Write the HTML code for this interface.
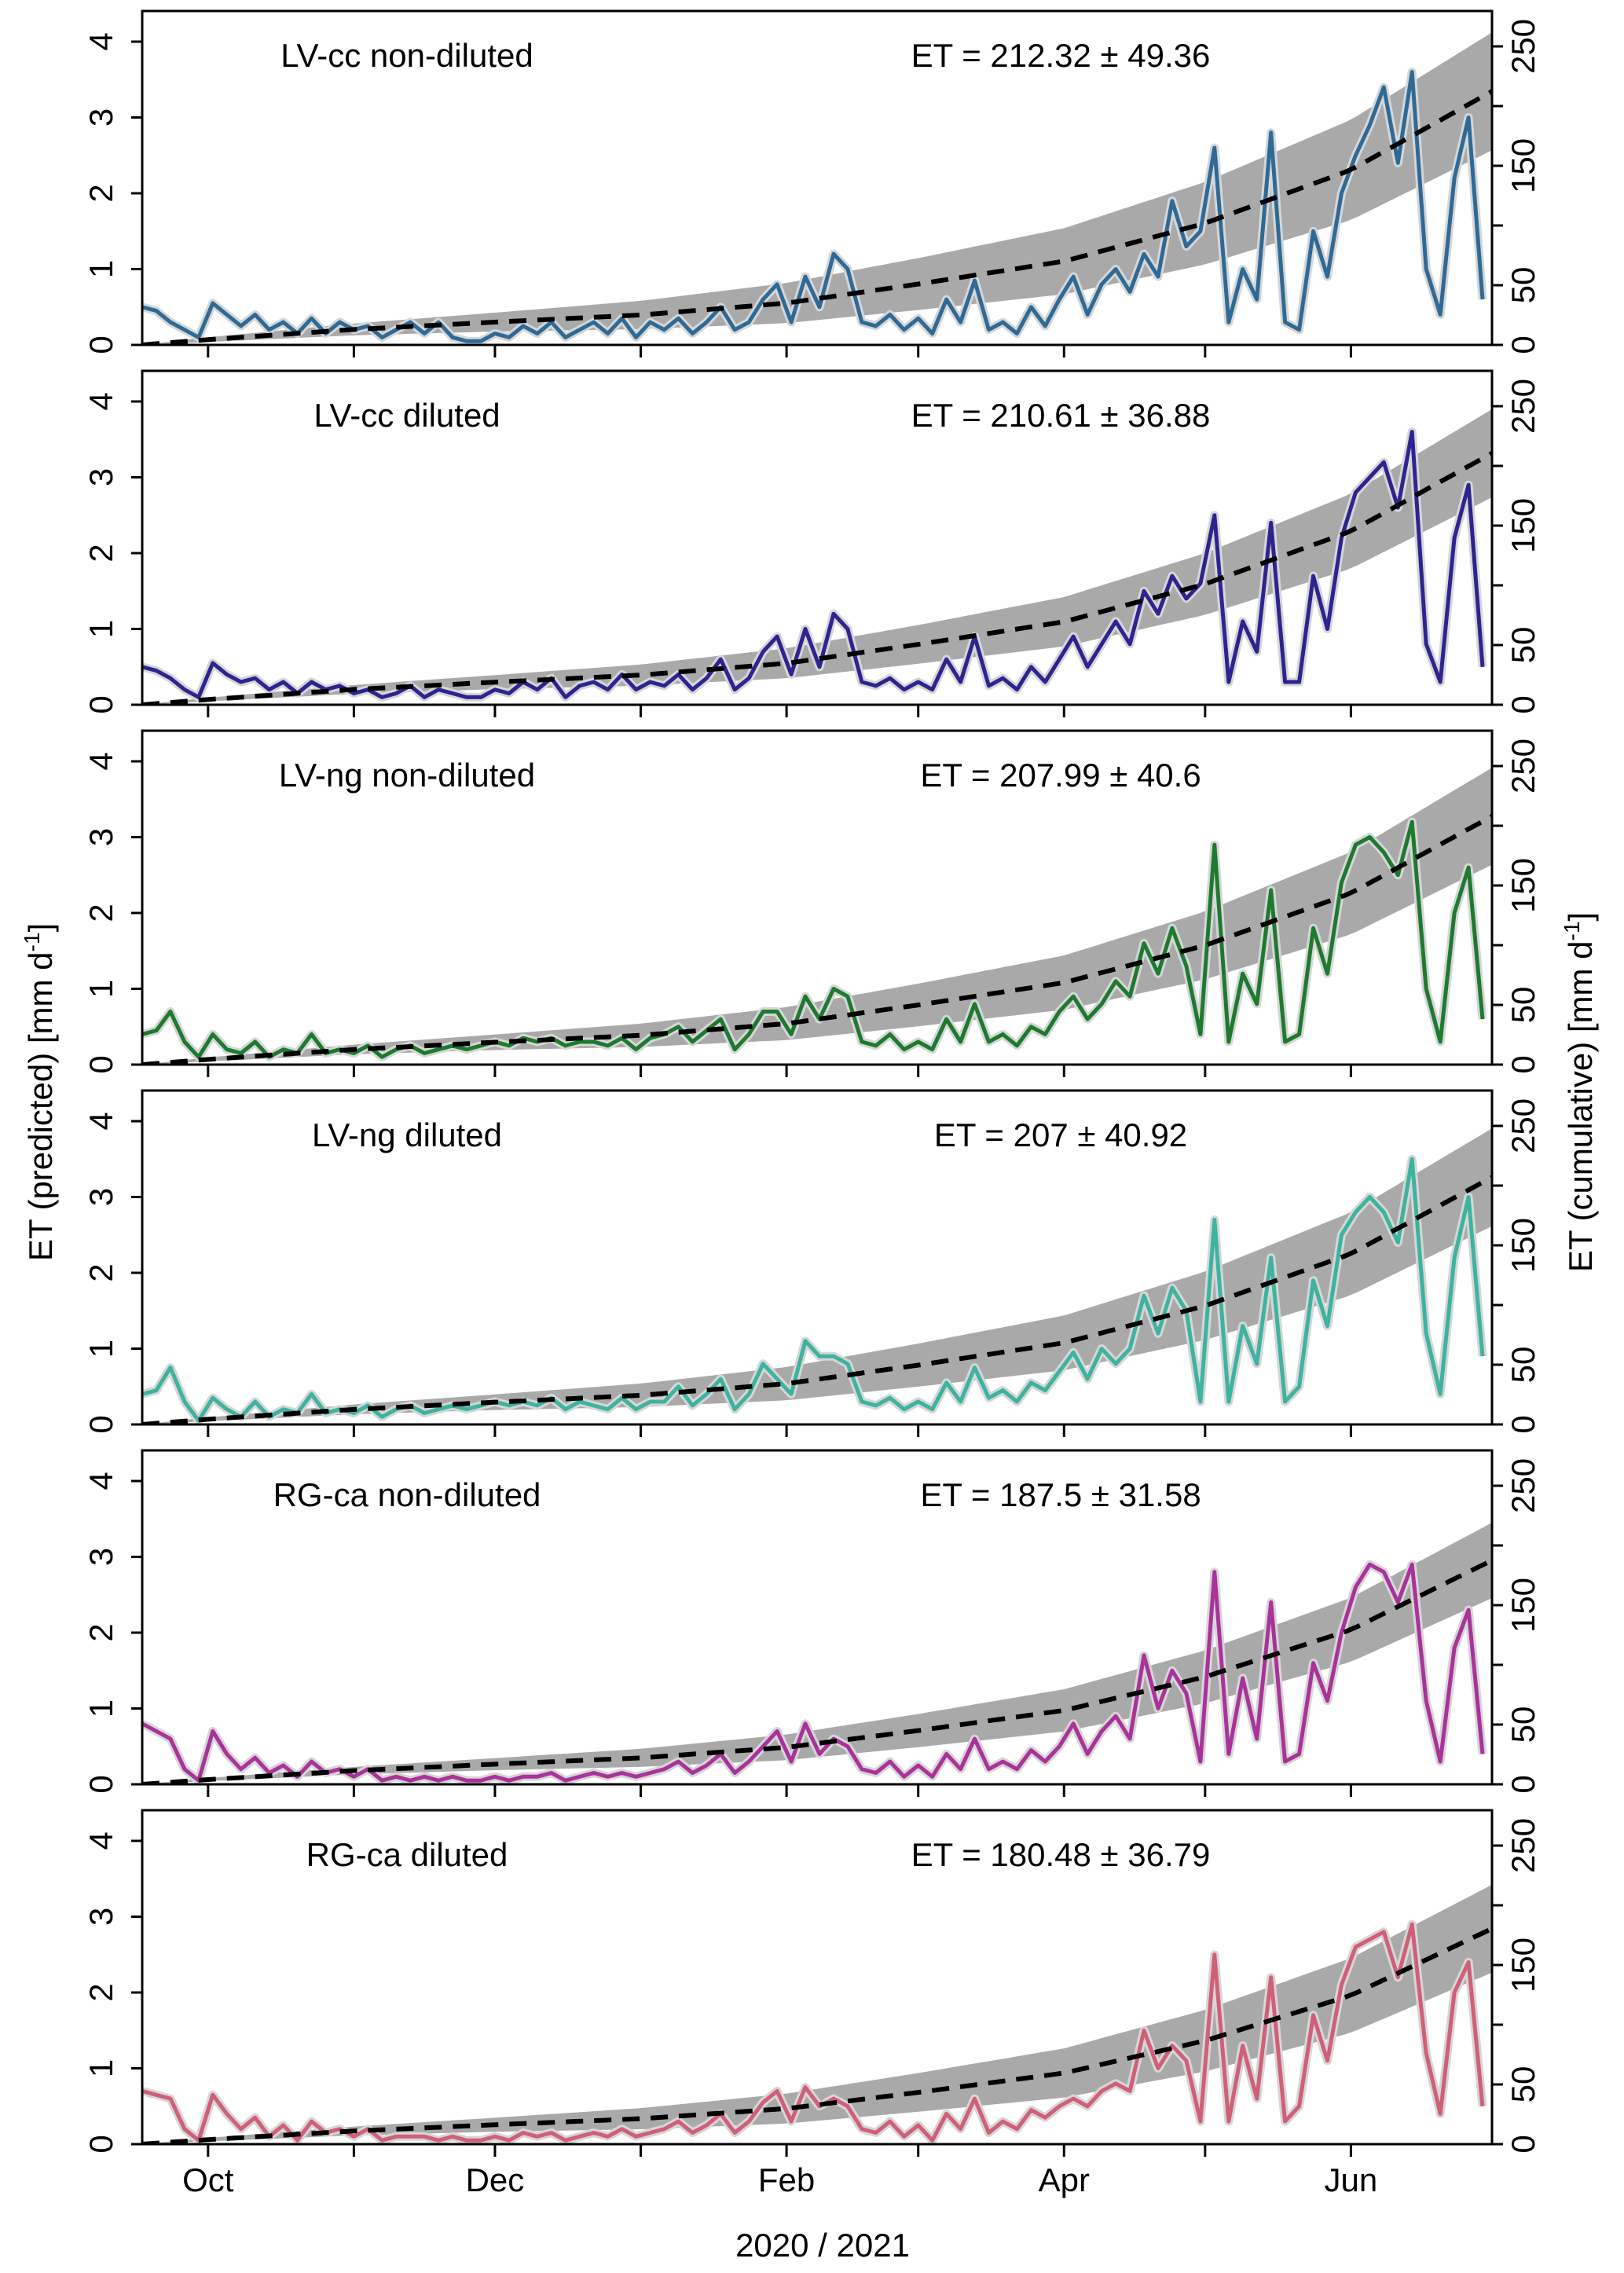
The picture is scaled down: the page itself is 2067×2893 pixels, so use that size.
<!DOCTYPE html>
<html><head><meta charset="utf-8">
<style>
html,body{margin:0;padding:0;background:#fff;}
svg{display:block;font-family:"Liberation Sans",Arial,sans-serif;}
</style></head>
<body>
<svg id="chart" width="2067" height="2893" viewBox="0 0 2067 2893" xmlns="http://www.w3.org/2000/svg">
<text x="0" y="0" transform="translate(66,1390) rotate(-90)" text-anchor="middle" font-size="42">ET (predicted) [mm d<tspan font-size="28" dy="-16">-1</tspan><tspan dy="16">]</tspan></text>
<text x="0" y="0" transform="translate(2026,1390) rotate(-90)" text-anchor="middle" font-size="42">ET (cumulative) [mm d<tspan font-size="28" dy="-16">-1</tspan><tspan dy="16">]</tspan></text>
<text x="1047" y="2872" text-anchor="middle" font-size="42">2020 / 2021</text>
</svg>
<script>
const panelNames = ["LV-cc non-diluted","LV-cc diluted","LV-ng non-diluted","LV-ng diluted","RG-ca non-diluted","RG-ca diluted"];
const etTotals = ["ET = 212.32 ± 49.36","ET = 210.61 ± 36.88","ET = 207.99 ± 40.6","ET = 207 ± 40.92","ET = 187.5 ± 31.58","ET = 180.48 ± 36.79"];
const cumEnd = [212.32,210.61,207.99,207,187.5,180.48];
const cumSd = [49.36,36.88,40.6,40.92,31.58,36.79];
const colors = ["#2f6a96","#2e2490","#1d7a2e","#3db3a0","#a93399","#d05f78"];
const cumDays = [0,14,45,75,106,137,165,196,226,257,287];
const cumShape = [0,0.021,0.061,0.09,0.118,0.165,0.24,0.33,0.48,0.69,1.0];
const sdShape = [0,0.04,0.1,0.16,0.24,0.34,0.44,0.56,0.7,0.85,1.0];
const monthTickDays = [14,45,75,106,137,165,196,226,257];
const monthLabels = ["Oct","","Dec","","Feb","","Apr","","Jun"];
const leftTicks = [0,1,2,3,4];
const rightTicks = [0,50,100,150,200,250];
const rightLabels = ["0","50","","150","","250"];
const series1 = [0.5,0.45,0.3,0.2,0.1,0.55,0.4,0.25,0.4,0.2,0.3,0.15,0.35,0.15,0.3,0.2,0.25,0.1,0.2,0.3,0.15,0.3,0.1,0.05,0.05,0.15,0.1,0.25,0.15,0.3,0.1,0.2,0.3,0.15,0.35,0.1,0.3,0.2,0.35,0.15,0.3,0.5,0.2,0.3,0.6,0.8,0.3,0.9,0.5,1.2,1.0,0.3,0.25,0.4,0.2,0.35,0.15,0.6,0.3,0.85,0.2,0.3,0.15,0.5,0.25,0.6,0.9,0.4,0.8,1.0,0.7,1.2,0.9,1.9,1.3,1.5,2.6,0.3,1.0,0.6,2.8,0.3,0.2,1.5,0.9,2.0,2.5,2.9,3.4,2.4,3.6,1.0,0.4,2.2,3.0,0.6];
const series2 = [0.5,0.45,0.35,0.2,0.1,0.55,0.4,0.3,0.35,0.2,0.3,0.15,0.3,0.2,0.25,0.15,0.2,0.1,0.15,0.25,0.1,0.2,0.15,0.1,0.1,0.2,0.15,0.3,0.2,0.35,0.1,0.25,0.3,0.2,0.4,0.2,0.3,0.25,0.4,0.2,0.35,0.6,0.2,0.35,0.7,0.9,0.4,1.0,0.5,1.2,1.0,0.3,0.25,0.35,0.2,0.3,0.2,0.6,0.3,0.9,0.25,0.35,0.2,0.5,0.3,0.6,0.9,0.5,0.8,1.1,0.8,1.5,1.2,1.7,1.4,1.6,2.5,0.3,1.1,0.7,2.4,0.3,0.3,1.7,1.0,2.2,2.8,3.0,3.2,2.6,3.6,0.8,0.3,2.2,2.9,0.5];
const series3 = [0.4,0.45,0.7,0.3,0.1,0.4,0.2,0.15,0.3,0.1,0.2,0.15,0.4,0.15,0.2,0.15,0.25,0.1,0.2,0.25,0.15,0.2,0.25,0.2,0.25,0.3,0.25,0.35,0.3,0.35,0.25,0.3,0.3,0.25,0.35,0.2,0.35,0.4,0.5,0.3,0.45,0.6,0.2,0.4,0.7,0.7,0.4,0.9,0.6,1.0,0.9,0.3,0.25,0.4,0.2,0.3,0.2,0.6,0.3,0.8,0.3,0.4,0.25,0.5,0.4,0.7,0.9,0.6,0.8,1.1,0.9,1.6,1.2,1.8,1.3,0.4,2.9,0.3,1.2,0.8,2.3,0.3,0.4,1.8,1.2,2.4,2.9,3.0,2.8,2.5,3.2,1.0,0.3,2.0,2.6,0.6];
const series4 = [0.4,0.45,0.75,0.3,0.05,0.35,0.2,0.1,0.3,0.1,0.2,0.15,0.4,0.15,0.2,0.15,0.25,0.1,0.2,0.25,0.15,0.2,0.25,0.2,0.25,0.3,0.25,0.3,0.25,0.35,0.2,0.3,0.25,0.2,0.35,0.2,0.3,0.3,0.5,0.25,0.4,0.6,0.2,0.4,0.8,0.6,0.4,1.1,0.9,0.9,0.8,0.3,0.25,0.35,0.2,0.3,0.2,0.55,0.3,0.75,0.35,0.45,0.3,0.55,0.45,0.7,0.95,0.6,1.0,0.8,1.0,1.7,1.2,1.8,1.5,0.3,2.7,0.3,1.3,0.8,2.2,0.3,0.5,1.9,1.3,2.5,2.8,3.0,2.8,2.4,3.5,1.2,0.4,2.2,3.0,0.9];
const series5 = [0.8,0.7,0.6,0.2,0.05,0.7,0.4,0.2,0.35,0.15,0.25,0.1,0.3,0.15,0.2,0.1,0.2,0.05,0.1,0.05,0.1,0.05,0.1,0.05,0.05,0.1,0.05,0.1,0.1,0.15,0.05,0.1,0.15,0.1,0.15,0.1,0.15,0.2,0.3,0.15,0.25,0.4,0.15,0.3,0.5,0.7,0.3,0.8,0.4,0.6,0.5,0.2,0.15,0.3,0.1,0.25,0.1,0.4,0.2,0.6,0.2,0.3,0.2,0.45,0.3,0.5,0.8,0.4,0.7,0.9,0.6,1.7,1.0,1.5,1.2,0.3,2.8,0.4,1.4,0.6,2.4,0.3,0.4,1.6,1.1,2.0,2.6,2.9,2.8,2.4,2.9,1.1,0.3,1.8,2.3,0.4];
const series6 = [0.7,0.65,0.6,0.2,0.05,0.65,0.4,0.2,0.35,0.1,0.25,0.05,0.3,0.15,0.2,0.1,0.2,0.05,0.1,0.1,0.1,0.05,0.1,0.05,0.05,0.1,0.05,0.15,0.1,0.15,0.05,0.1,0.15,0.1,0.2,0.1,0.15,0.2,0.3,0.15,0.25,0.4,0.15,0.3,0.55,0.7,0.3,0.75,0.5,0.6,0.5,0.2,0.15,0.3,0.1,0.25,0.05,0.4,0.2,0.6,0.15,0.3,0.2,0.45,0.35,0.5,0.6,0.5,0.7,0.8,0.7,1.5,1.0,1.3,1.1,0.3,2.5,0.3,1.3,0.6,2.2,0.3,0.5,1.7,1.1,2.1,2.6,2.7,2.8,2.2,2.9,1.2,0.4,2.0,2.4,0.5];
const allSeries = [series1,series2,series3,series4,series5,series6];

const NS = "http://www.w3.org/2000/svg";
const svg = document.getElementById("chart");
const X0 = 181, X1 = 1899, DAYS = 287;
const PH = 425, TOP0 = 14, PERIOD = 458;
function xScale(d){ return X0 + d/DAYS*(X1-X0); }
function mk(tag, attrs, parent){
  const e = document.createElementNS(NS, tag);
  for (const k in attrs) e.setAttribute(k, attrs[k]);
  (parent||svg).appendChild(e);
  return e;
}
function interp(arr, d){
  let k = 0; while (k < cumDays.length-2 && d > cumDays[k+1]) k++;
  const t = (d - cumDays[k])/(cumDays[k+1]-cumDays[k]);
  return arr[k] + t*(arr[k+1]-arr[k]);
}
for (let p = 0; p < 6; p++) {
  const top = TOP0 + p*PERIOD, bottom = top + PH;
  const yL = v => bottom - v*96.5;
  const yR = v => bottom - v*1.52;
  const g = mk("g", {});
  
  
  const clipId = "clip"+p;
  const cp = mk("clipPath", {id: clipId}, g);
  mk("rect", {x: X0, y: top, width: X1-X0, height: PH}, cp);
  const inner = mk("g", {"clip-path": "url(#"+clipId+")"}, g);
  const n = 120; let up = [], lo = [], mid = [];
  for (let i = 0; i <= n; i++) {
    const d = i/n*DAYS;
    const c = interp(cumShape, d)*cumEnd[p];
    const s = interp(sdShape, d)*cumSd[p];
    up.push(xScale(d).toFixed(1)+","+yR(c+s).toFixed(1));
    lo.unshift(xScale(d).toFixed(1)+","+yR(Math.max(c-s,0)).toFixed(1));
    mid.push(xScale(d).toFixed(1)+","+yR(c).toFixed(1));
  }
  const band = mk("polygon", {points: up.concat(lo).join(" "), fill: "#a9a9a9"}, inner);
  
  
  const data = allSeries[p];
  const pts = data.map((v,i) => xScale(i*3).toFixed(1)+","+yL(v).toFixed(1)).join(" ");
  const halo = mk("polyline", {points: pts, fill: "none", stroke: "#d6d6d6", "stroke-width": 11, "stroke-linejoin": "round"}, inner);
  
  
  const line = mk("polyline", {points: pts, fill: "none", stroke: colors[p], "stroke-width": 5, "stroke-linejoin": "round"}, inner);
  
  
  const cum = mk("polyline", {points: mid.join(" "), fill: "none", stroke: "#000", "stroke-width": 6, "stroke-dasharray": "22 14"}, inner);
  
  
  const fr = mk("rect", {x: X0, y: top, width: X1-X0, height: PH, fill: "none", stroke: "#000", "stroke-width": 3}, g);
  
  
  leftTicks.forEach(v => {
    mk("line", {x1: X0-14, x2: X0, y1: yL(v), y2: yL(v), stroke: "#000", "stroke-width": 3}, g);
    const t = mk("text", {transform: "translate("+(X0-38)+","+yL(v)+") rotate(-90)", "text-anchor": "middle", "font-size": 42}, g);
    t.textContent = v;
    
    
  });
  rightTicks.forEach((v,i) => {
    mk("line", {x1: X1, x2: X1+14, y1: yR(v), y2: yR(v), stroke: "#000", "stroke-width": 3}, g);
    if (rightLabels[i]) {
      const t = mk("text", {transform: "translate("+(X1+54)+","+yR(v)+") rotate(-90)", "text-anchor": "middle", "font-size": 42}, g);
      t.textContent = rightLabels[i];
      
      
    }
  });
  monthTickDays.forEach((d,i) => {
    mk("line", {x1: xScale(d), x2: xScale(d), y1: bottom, y2: bottom+16, stroke: "#000", "stroke-width": 3}, g);
    if (p === 5 && monthLabels[i]) {
      const t = mk("text", {x: xScale(d), y: bottom+60, "text-anchor": "middle", "font-size": 42}, g);
      t.textContent = monthLabels[i];
      
      
    }
  });
  const nm = mk("text", {x: 518, y: top+71, "text-anchor": "middle", "font-size": 42}, g);
  nm.textContent = panelNames[p];
  
  
  const et = mk("text", {x: 1350, y: top+71, "text-anchor": "middle", "font-size": 42}, g);
  et.textContent = etTotals[p];
  
  
}
</script>
</body></html>
